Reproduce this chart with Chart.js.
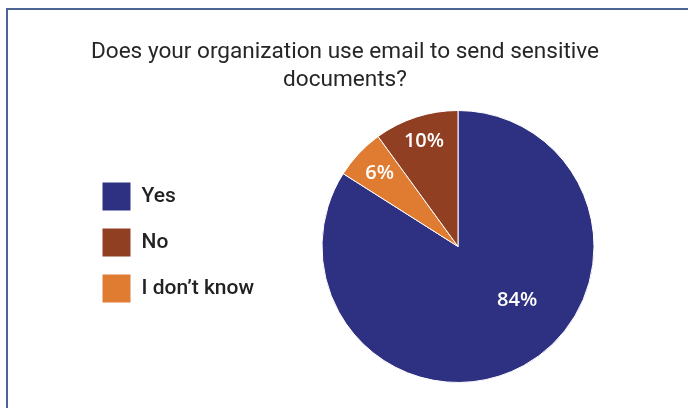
<!DOCTYPE html>
<html>
<head>
<meta charset="utf-8">
<title>Email e documentos sensíveis</title>
<script src="https://cdn.jsdelivr.net/npm/chart.js@4.4.1/dist/chart.umd.min.js"></script>
<style>
  html, body { margin: 0; padding: 0; background: #fff; overflow: hidden; }
  /* moldura azulada que sai pela direita e por baixo */
  #moldura { position: absolute; left: 6px; top: 8px; width: 800px; height: 500px;
             border-left: 2px solid #4d6594; border-top: 2px solid #4d6594; }
  #grafico { position: absolute; left: 0; top: 0; }
</style>
</head>
<body>
<div id="moldura"></div>
<canvas id="grafico" width="688" height="408"></canvas>
<script>
// Dados (fatias no sentido horário a partir do topo)
const categorias = ['Yes', 'I don’t know', 'No'];
const valores = [84, 6, 10];
const cores = ['#2e3181', '#e07b32', '#913f22'];
// ordem em que a legenda aparece
const ordemLegenda = ['Yes', 'No', 'I don’t know'];
const titulo = ['Does your organization use email to send sensitive', 'documents?'];

// posição dos rótulos: fração do raio e giro (graus) a partir do meio da fatia
const raioRotulo = [0.59, 0.79, 0.81];
const giroRotulo = [-18.7, 0, 0];

// Escreve as porcentagens dentro das fatias
const rotulos = {
  id: 'rotulos',
  afterDatasetsDraw(chart) {
    const ctx = chart.ctx;
    const meta = chart.getDatasetMeta(0);
    ctx.save();
    ctx.font = '600 20px "Open Sans"';
    ctx.fillStyle = '#ffffff';
    ctx.textAlign = 'center';
    ctx.textBaseline = 'middle';
    meta.data.forEach((arco, i) => {
      const p = arco.getProps(['x', 'y', 'startAngle', 'endAngle', 'outerRadius'], true);
      const ang = (p.startAngle + p.endAngle) / 2 + giroRotulo[i] * Math.PI / 180;
      const r = p.outerRadius * raioRotulo[i];
      ctx.fillText(valores[i] + '%', p.x + Math.cos(ang) * r, p.y + Math.sin(ang) * r);
    });
    ctx.restore();
  }
};

// Legenda mais larga, para a pizza ficar à direita (e um pouco mais alta)
const larguraLegenda = {
  id: 'larguraLegenda',
  beforeInit(chart) {
    const fitOriginal = chart.legend.fit;
    chart.legend.fit = function () {
      fitOriginal.call(this);
      this.width = 226;
      if (this.columnSizes && this.columnSizes[0]) this.columnSizes[0].height += 8;
    };
  }
};

new Chart(document.getElementById('grafico'), {
  type: 'pie',
  data: {
    labels: categorias,
    datasets: [{
      data: valores,
      backgroundColor: cores,
      borderColor: '#ffffff',
      borderWidth: 1
    }]
  },
  options: {
    responsive: false,
    animation: false,
    layout: { padding: { left: 85, right: 83, top: 0, bottom: 25 } },
    plugins: {
      title: {
        display: true,
        text: titulo,
        color: '#262626',
        font: { family: 'Roboto', size: 22.6, weight: 'normal', lineHeight: 28 / 22.6 },
        padding: { top: 38, bottom: 16 }
      },
      legend: {
        position: 'left',
        align: 'center',
        fullSize: false,
        labels: {
          boxWidth: 29,
          boxHeight: 29,
          padding: 17,
          color: '#222222',
          font: { family: 'Roboto', size: 21, weight: 500 },
          sort: (a, b) => ordemLegenda.indexOf(a.text) - ordemLegenda.indexOf(b.text)
        }
      },
      tooltip: { enabled: false }
    }
  },
  plugins: [rotulos, larguraLegenda]
});
</script>
</body>
</html>
